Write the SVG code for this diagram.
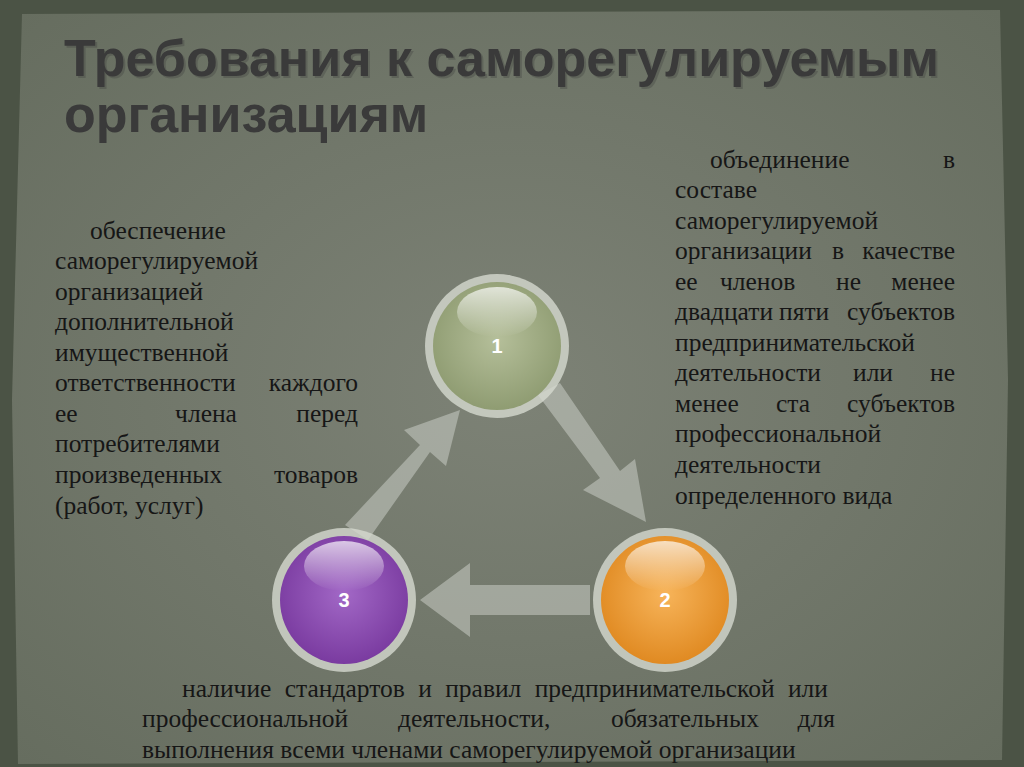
<svg xmlns="http://www.w3.org/2000/svg" width="1024" height="767" viewBox="0 0 1024 767">
<defs>
<style>
.t{font-family:"Liberation Serif",serif;font-size:25.5px;fill:#161616}
.h{font-family:"Liberation Sans",sans-serif;font-size:52px;font-weight:bold;fill:#3a3a3a}
.n{font-family:"Liberation Sans",sans-serif;font-size:20px;font-weight:bold;fill:#fff;text-anchor:middle}
.ar{fill:#c8ccc4;opacity:0.55}
</style>
<radialGradient id="bg" cx="50%" cy="50%" r="70%"><stop offset="0" stop-color="#7d8276"/><stop offset="1" stop-color="#666d5f"/></radialGradient>
<radialGradient id="g1" cx="50%" cy="45%" r="55%"><stop offset="0" stop-color="#b5bf9a"/><stop offset="1" stop-color="#8f9c72"/></radialGradient>
<radialGradient id="g2" cx="50%" cy="45%" r="55%"><stop offset="0" stop-color="#f7b45a"/><stop offset="1" stop-color="#e08a22"/></radialGradient>
<radialGradient id="g3" cx="50%" cy="45%" r="55%"><stop offset="0" stop-color="#a268c6"/><stop offset="1" stop-color="#7a3ba0"/></radialGradient>
<linearGradient id="hl" x1="0" y1="0" x2="0" y2="1"><stop offset="0" stop-color="#fff" stop-opacity="0.7"/><stop offset="1" stop-color="#fff" stop-opacity="0"/></linearGradient>
</defs>
<rect width="1024" height="767" fill="#4b5345"/>
<path d="M22,14 L1000,10 L1008,380 L1002,760 L18,764 L12,400 Z" fill="url(#bg)"/>
<text class="h" x="66" y="78" fill="#fff" opacity="0.3">Требования к саморегулируемым</text>
<text class="h" x="64" y="76">Требования к саморегулируемым</text>
<text class="h" x="64" y="132">организациям</text>
<g id="connectors">
<path class="ar" d="M345,525 L420,445 L404,430 L460,410 L446,466 L430,452 L368,540 Z"/>
<path class="ar" d="M538,395 L600,478 L583,490 L646,522 L635,459 L620,471 L560,383 Z"/>
<path class="ar" d="M590,585 L470,585 L470,563 L420,600 L470,637 L470,615 L590,615 Z"/>
</g>
<g id="node1"><circle cx="497" cy="346" r="72" fill="#d6d9cf" opacity="0.8"/><circle cx="497" cy="346" r="64" fill="url(#g1)"/><ellipse cx="497" cy="312" rx="40" ry="25" fill="url(#hl)"/><text class="n" x="497" y="353">1</text></g>
<g id="node2"><circle cx="665" cy="600" r="72" fill="#d6d9cf" opacity="0.8"/><circle cx="665" cy="600" r="64" fill="url(#g2)"/><ellipse cx="665" cy="566" rx="40" ry="25" fill="url(#hl)"/><text class="n" x="665" y="607">2</text></g>
<g id="node3"><circle cx="344" cy="600" r="72" fill="#d6d9cf" opacity="0.8"/><circle cx="344" cy="600" r="64" fill="url(#g3)"/><ellipse cx="344" cy="566" rx="40" ry="25" fill="url(#hl)"/><text class="n" x="344" y="607">3</text></g>
<g id="textLeft" class="t">
<text x="90" y="239">обеспечение</text>
<text x="55" y="269">саморегулируемой</text>
<text x="55" y="300">организацией</text>
<text x="55" y="330">дополнительной</text>
<text x="55" y="361">имущественной</text>
<text x="55" y="391">ответственности</text><text x="358" y="391" text-anchor="end">каждого</text>
<text x="55" y="422">ее</text><text x="206" y="422" text-anchor="middle">члена</text><text x="358" y="422" text-anchor="end">перед</text>
<text x="55" y="452">потребителями</text>
<text x="55" y="483">произведенных</text><text x="358" y="483" text-anchor="end">товаров</text>
<text x="55" y="514">(работ, услуг)</text>
</g>
<g id="textRight" class="t">
<text x="710" y="168">объединение</text><text x="955" y="168" text-anchor="end">в</text>
<text x="675" y="198">составе</text>
<text x="675" y="229">саморегулируемой</text>
<text x="675" y="259">организации</text><text x="832" y="259">в</text><text x="955" y="259" text-anchor="end">качестве</text>
<text x="675" y="290">ее</text><text x="720" y="290">членов</text><text x="836" y="290">не</text><text x="955" y="290" text-anchor="end">менее</text>
<text x="675" y="320">двадцати</text><text x="779" y="320">пяти</text><text x="955" y="320" text-anchor="end">субъектов</text>
<text x="675" y="351">предпринимательской</text>
<text x="675" y="381">деятельности</text><text x="853" y="381">или</text><text x="955" y="381" text-anchor="end">не</text>
<text x="675" y="412">менее</text><text x="776" y="412">ста</text><text x="955" y="412" text-anchor="end">субъектов</text>
<text x="675" y="442">профессиональной</text>
<text x="675" y="473">деятельности</text>
<text x="675" y="504">определенного вида</text>
</g>
<g id="textBottom" class="t">
<text x="182" y="697" word-spacing="7">наличие стандартов и правил предпринимательской или</text>
<text x="142" y="727">профессиональной</text><text x="398" y="727">деятельности,</text><text x="611" y="727">обязательных</text><text x="835" y="727" text-anchor="end">для</text>
<text x="142" y="758">выполнения всеми членами саморегулируемой организации</text>
</g>
</svg>
